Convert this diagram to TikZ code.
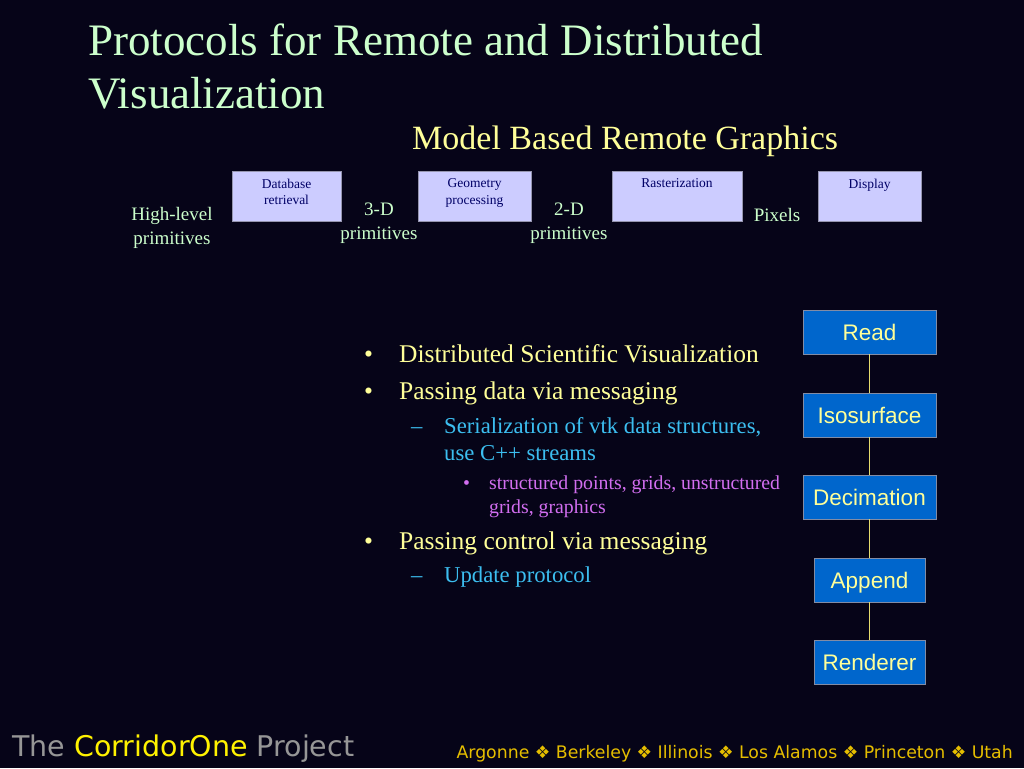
\documentclass[tikz,border=0pt]{standalone}
\usepackage{fontspec}
\setmainfont{Liberation Serif}
\newfontfamily\arialf{Liberation Sans}
\newfontfamily\dejavu{DejaVu Sans}
\definecolor{bgnavy}{RGB}{6,4,24}
\definecolor{titlegreen}{RGB}{204,255,204}
\definecolor{softyellow}{RGB}{255,255,153}
\definecolor{skyblue}{RGB}{60,190,240}
\definecolor{lilac}{RGB}{210,110,240}
\definecolor{lavender}{RGB}{204,204,255}
\definecolor{lavedge}{RGB}{150,150,175}
\definecolor{boxnavy}{RGB}{0,0,102}
\definecolor{stageblue}{RGB}{0,102,204}
\definecolor{stageedge}{RGB}{130,140,165}
\definecolor{linkyellow}{RGB}{230,220,110}
\definecolor{footgray}{RGB}{150,150,150}
\definecolor{footgold}{RGB}{230,190,0}
\begin{document}
\begin{tikzpicture}[x=1pt,y=-1pt,
  pipe/.style={draw=lavedge,fill=lavender,minimum height=50,inner sep=0pt},
  pipetext/.style={anchor=north,text=boxnavy,align=center,font=\fontsize{13.5}{16.5}\selectfont,inner sep=2pt,yshift=-6pt},
  flow/.style={text=titlegreen,align=center,font=\fontsize{19}{24.5}\selectfont},
  stage/.style={draw=stageedge,fill=stageblue,text=softyellow,minimum height=44,inner sep=0pt,text depth=0pt,font=\arialf\fontsize{22.5}{27}\selectfont},
  lvlone/.style={anchor=base west,text=softyellow,align=left,inner sep=0pt,font=\fontsize{25.5}{37}\selectfont},
  lvltwo/.style={anchor=base west,text=skyblue,align=left,inner sep=0pt,font=\fontsize{22.7}{27}\selectfont},
  lvlthree/.style={anchor=base west,text=lilac,align=left,inner sep=0pt,font=\fontsize{19.8}{24}\selectfont}]
  \fill[bgnavy] (0,0) rectangle (1024,768);
  \useasboundingbox (0,0) rectangle (1024,768);
  % title
  \node[anchor=base west,text=titlegreen,align=left,inner sep=0pt,font=\fontsize{45}{53}\selectfont] (title) at (88,108) {Protocols for Remote and Distributed\\Visualization};
  \node[anchor=base west,text=softyellow,inner sep=0pt,font=\fontsize{34}{38}\selectfont] (subtitle) at (412,149) {Model Based Remote Graphics};
  % pipeline
  \node[pipe,minimum width=109,label={[pipetext]north:Database\\retrieval}] (db) at (286.5,196) {};
  \node[pipe,minimum width=113,label={[pipetext]north:Geometry\\processing}] (geo) at (474.5,196) {};
  \node[pipe,minimum width=130,label={[pipetext]north:Rasterization}] (ras) at (677,196) {};
  \node[pipe,minimum width=103,label={[pipetext]north:Display}] (disp) at (869.5,196) {};
  \node[flow] (hl) at (172,228) {High-level\\primitives};
  \node[flow] (threed) at (379,223) {3-D\\primitives};
  \node[flow] (twod) at (569,223) {2-D\\primitives};
  \node[flow] (pix) at (777,215) {Pixels};
  % bullets
  \node[lvlone] (b1) at (364,362) {•};
  \node[lvlone] (t1) at (399,362) {Distributed Scientific Visualization};
  \node[lvlone] (b2) at (364,399) {•};
  \node[lvlone] (t2) at (399,399) {Passing data via messaging};
  \node[lvltwo] (d1) at (411,433) {–};
  \node[lvltwo] (t3) at (444,460) {Serialization of vtk data structures,\\use C++ streams};
  \node[lvlthree] (b3) at (463,489) {•};
  \node[lvlthree] (t4) at (489,513) {structured points, grids, unstructured\\grids, graphics};
  \node[lvlone] (b4) at (364,549) {•};
  \node[lvlone] (t5) at (399,549) {Passing control via messaging};
  \node[lvltwo] (d2) at (411,582) {–};
  \node[lvltwo] (t6) at (444,582) {Update protocol};
  % vtk pipeline
  \node[stage,minimum width=133] (read) at (869.5,332) {Read};
  \node[stage,minimum width=133] (iso) at (869.5,415) {Isosurface};
  \node[stage,minimum width=133] (deci) at (869.5,497) {Decimation};
  \node[stage,minimum width=111] (app) at (869.5,580) {Append};
  \node[stage,minimum width=111] (rend) at (869.5,662) {Renderer};
  \draw[linkyellow] (read.south) -- (iso.north);
  \draw[linkyellow] (iso.south) -- (deci.north);
  \draw[linkyellow] (deci.south) -- (app.north);
  \draw[linkyellow] (app.south) -- (rend.north);
  % footer
  \node[anchor=base west,inner sep=0pt,font=\dejavu\fontsize{28.5}{30}\selectfont] (proj) at (12,756) {\textcolor{footgray}{The} \textcolor{yellow}{CorridorOne} \textcolor{footgray}{Project}};
  \node[anchor=base east,inner sep=0pt,text=footgold,font=\dejavu\fontsize{17.3}{18}\selectfont] (sites) at (1013,758) {Argonne ❖ Berkeley ❖ Illinois ❖ Los Alamos ❖ Princeton ❖ Utah};
\end{tikzpicture}
\end{document}
